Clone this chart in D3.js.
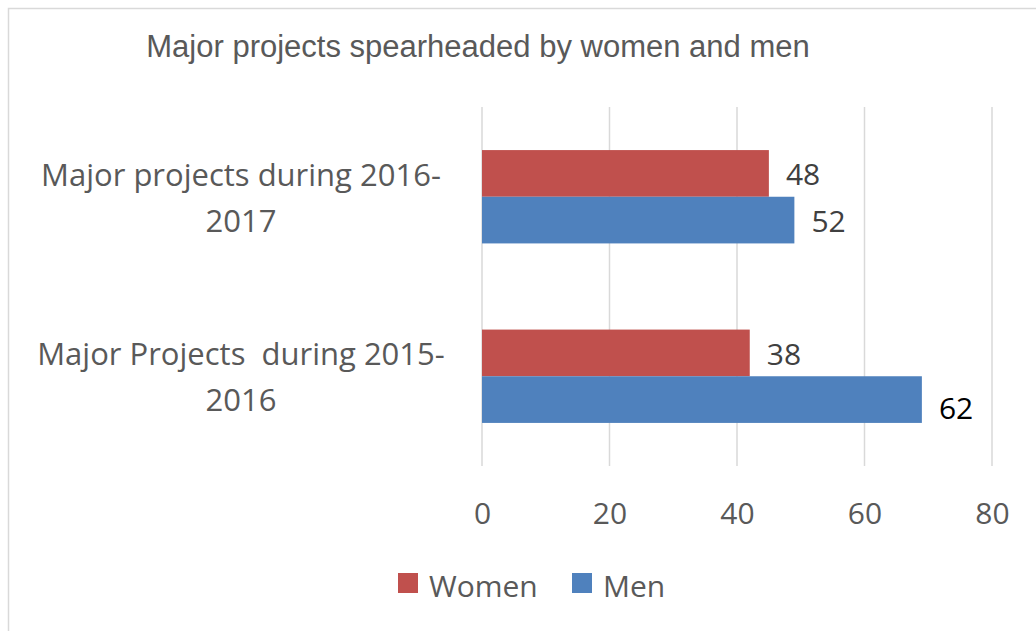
<!DOCTYPE html>
<html>
<head>
<meta charset="utf-8">
<script src="https://cdnjs.cloudflare.com/ajax/libs/d3/7.8.5/d3.min.js"></script>
<style>
	html, body { margin: 0; padding: 0; background: #ffffff; }
	svg text { font-family: "Open Sans", sans-serif; }
</style>
</head>
<body>
<div id="chart"></div>
<script>
// Categories, top to bottom, each split into two lines as in the original
var categories = ["Major projects during 2016-2017", "Major Projects  during 2015-2016"];
var categoryLines = [["Major projects during 2016-", "2017"], ["Major Projects  during 2015-", "2016"]];
var seriesNames = ["Women", "Men"];
// bar lengths as drawn
var womenValues = [45, 42];
var menValues = [49, 69];
// data labels as printed (they do not match the bar lengths in the original)
var womenLabels = ["48", "38"];
var menLabels = ["52", "62"];
var xTicks = [0, 20, 40, 60, 80];
var seriesColors = ["#C0504D", "#4F81BD"];

var W = 1036, H = 631;
var plot = { left: 482, right: 992, top: 107, bottom: 466 };

var svg = d3.select("#chart").append("svg")
	.attr("width", W)
	.attr("height", H);

// chart frame
svg.append("rect")
	.attr("x", 8.5).attr("y", 8.5)
	.attr("width", W + 20).attr("height", H + 20)
	.attr("fill", "#ffffff")
	.attr("stroke", "#d9d9d9")
	.attr("stroke-width", 1.5);

// title
svg.append("text")
	.attr("x", 478).attr("y", 57)
	.attr("text-anchor", "middle")
	.style("font-family", "'Liberation Sans', Arial, sans-serif")
	.style("font-size", "31px")
	.attr("fill", "#595959")
	.text("Major projects spearheaded by women and men");

var x = d3.scaleLinear().domain([0, 80]).range([plot.left, plot.right]);
var y = d3.scaleBand().domain(categories).range([plot.top, plot.bottom])
	.paddingInner(0.48).paddingOuter(0.24);
var ySub = d3.scaleBand().domain(seriesNames).range([0, y.bandwidth()]);

// gridlines
svg.append("g").selectAll("line")
	.data(xTicks)
	.join("line")
	.attr("x1", function(d){ return x(d); })
	.attr("x2", function(d){ return x(d); })
	.attr("y1", plot.top).attr("y2", plot.bottom)
	.attr("stroke", "#d9d9d9")
	.attr("stroke-width", 1.5);

// x axis labels
var xAxis = d3.axisBottom(x).tickValues(xTicks).tickSize(0).tickPadding(0);
var xAxisGroup = svg.append("g")
	.attr("transform", "translate(0," + 524 + ")")
	.call(xAxis);
xAxisGroup.select(".domain").remove();
xAxisGroup.selectAll("text")
	.attr("y", 0).attr("dy", 0)
	.style("font-family", "'Open Sans', sans-serif")
	.style("font-size", "30px")
	.attr("fill", "#595959");

// category labels
var catGroup = svg.append("g");
categories.forEach(function(c, i){
	var cy = y(c) + y.bandwidth() / 2;
	var t = catGroup.append("text")
		.attr("text-anchor", "middle")
		.style("font-size", "31px")
		.style("white-space", "pre")
		.attr("fill", "#595959");
	categoryLines[i].forEach(function(line, j){
		t.append("tspan")
			.attr("x", 241)
			.attr("y", cy - 11 + j * 46)
			.style("white-space", "pre")
			.text(line);
	});
});

// bars
var series = [
	{ name: "Women", values: womenValues, labels: womenLabels, color: seriesColors[0] },
	{ name: "Men", values: menValues, labels: menLabels, color: seriesColors[1] }
];
var barLayer = svg.append("g");
series.forEach(function(s){
	barLayer.selectAll(null)
		.data(s.values)
		.join("rect")
		.attr("x", x(0))
		.attr("y", function(d, i){ return y(categories[i]) + ySub(s.name); })
		.attr("width", function(d){ return x(d) - x(0); })
		.attr("height", ySub.bandwidth())
		.attr("fill", s.color);

	barLayer.selectAll(null)
		.data(s.values)
		.join("text")
		.attr("x", function(d){ return x(d) + 17; })
		.attr("y", function(d, i){
			var mid = y(categories[i]) + ySub(s.name) + ySub.bandwidth() / 2;
			// the "62" label sits a little lower in the original
			return mid + 12 + (s.name === "Men" && i === 1 ? 7 : 0);
		})
		.style("font-size", "30px")
		.attr("fill", function(d, i){ return (s.name === "Men" && i === 1) ? "#000000" : "#404040"; })
		.text(function(d, i){ return s.labels[i]; });
});

// legend
var legend = svg.append("g").attr("transform", "translate(398,573)");
var legendX = [0, 174];
series.forEach(function(s, i){
	var g = legend.append("g").attr("transform", "translate(" + legendX[i] + ",0)");
	g.append("rect")
		.attr("width", 20).attr("height", 20)
		.attr("fill", s.color);
	g.append("text")
		.attr("x", 31).attr("y", 24)
		.style("font-size", "30px")
		.attr("fill", "#595959")
		.text(s.name);
});
</script>
</body>
</html>
